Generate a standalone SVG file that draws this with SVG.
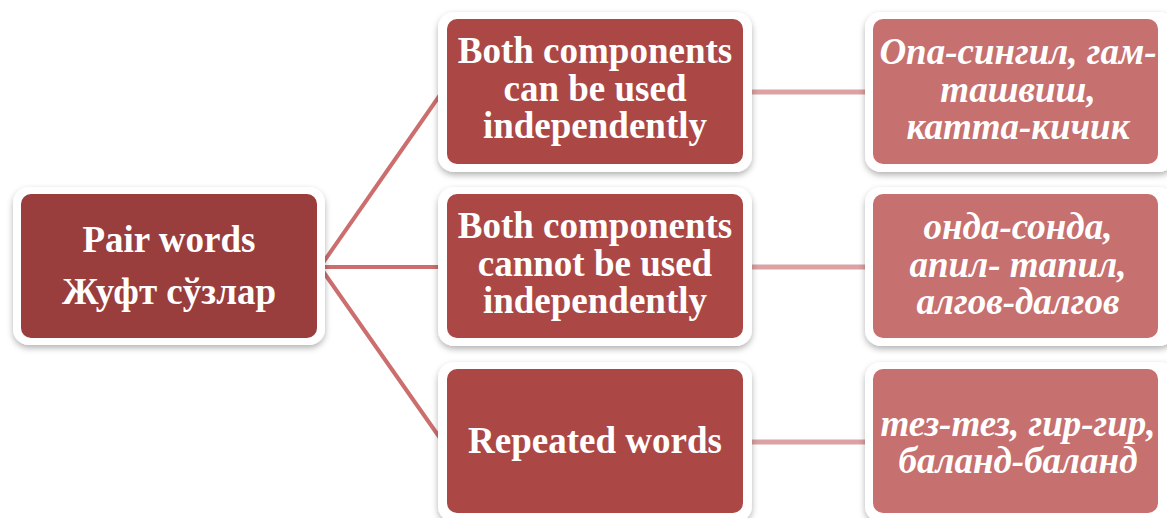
<svg xmlns="http://www.w3.org/2000/svg" width="1167" height="518" viewBox="0 0 1167 518">
<defs>
<filter id="sh" x="-10%" y="-10%" width="120%" height="125%">
<feDropShadow dx="0" dy="3" stdDeviation="3" flood-color="#000" flood-opacity="0.3"/>
</filter>
<style>
.frame{fill:#fff;filter:url(#sh)}
.root{fill:#993d3d}
.mid{fill:#ab4846}
.leaf{fill:#c6706f}
text{fill:#fff;font-family:"Liberation Serif","Times New Roman",serif;font-weight:bold;text-anchor:middle}
.t{font-size:37px}
.i{font-size:37px;font-style:italic}
.c1{stroke:#cc6e6e;stroke-width:4;fill:none}
.c2{stroke:#dba1a3;stroke-width:5;fill:none}
</style>
</defs>
<rect width="1167" height="518" fill="#fff"/>
<g id="connectors">
<path class="c1" d="M320,267 L440,95 M320,267 L440,267 M320,267 L440,438"/>
<path class="c2" d="M747,92 L867,92 M747,267 L867,267 M747,442 L867,442"/>
</g>
<g id="root">
<rect class="frame" x="13" y="187" width="312" height="158" rx="16"/>
<rect class="root" x="21" y="194" width="296" height="144" rx="10"/>
<text class="t" x="169" y="252">Pair words</text>
<text class="t" x="169" y="304">Жуфт сўзлар</text>
</g>
<g id="mid1">
<rect class="frame" x="438" y="12" width="314" height="160" rx="16"/>
<rect class="mid" x="447" y="19" width="296" height="145" rx="10"/>
<text class="t" x="595" y="63">Both components</text>
<text class="t" x="595" y="101">can be used</text>
<text class="t" x="595" y="138">independently</text>
</g>
<g id="mid2">
<rect class="frame" x="438" y="187" width="314" height="159" rx="16"/>
<rect class="mid" x="447" y="194" width="296" height="144" rx="10"/>
<text class="t" x="595" y="238">Both components</text>
<text class="t" x="595" y="276">cannot be used</text>
<text class="t" x="595" y="313">independently</text>
</g>
<g id="mid3">
<rect class="frame" x="438" y="362" width="314" height="160" rx="16"/>
<rect class="mid" x="447" y="369" width="296" height="144" rx="10"/>
<text class="t" x="595" y="453">Repeated words</text>
</g>
<g id="leaf1">
<rect class="frame" x="865" y="12" width="310" height="160" rx="16"/>
<rect class="leaf" x="873" y="19" width="285" height="145" rx="10"/>
<text class="i" x="1018" y="64">Опа-сингил, гам-</text>
<text class="i" x="1018" y="102">ташвиш,</text>
<text class="i" x="1018" y="139">катта-кичик</text>
</g>
<g id="leaf2">
<rect class="frame" x="865" y="187" width="310" height="159" rx="16"/>
<rect class="leaf" x="873" y="194" width="285" height="144" rx="10"/>
<text class="i" x="1018" y="239">онда-сонда,</text>
<text class="i" x="1018" y="277">апил-  тапил,</text>
<text class="i" x="1018" y="314">алгов-далгов</text>
</g>
<g id="leaf3">
<rect class="frame" x="865" y="362" width="310" height="160" rx="16"/>
<rect class="leaf" x="873" y="369" width="285" height="144" rx="10"/>
<text class="i" x="1018" y="436">тез-тез, гир-гир,</text>
<text class="i" x="1018" y="473">баланд-баланд</text>
</g>
</svg>
